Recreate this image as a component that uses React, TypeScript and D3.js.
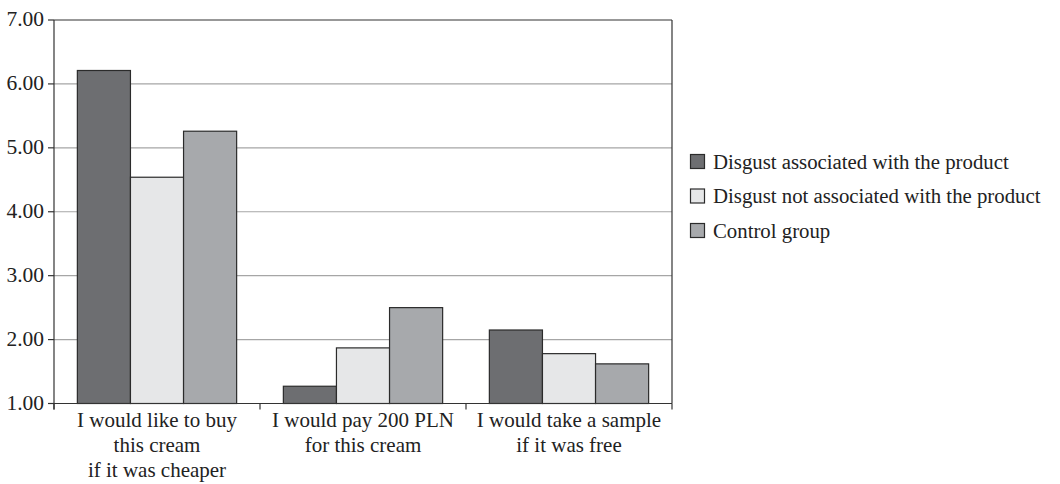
import React from "react";
import * as d3 from "d3";

const categories: string[][] = [
  ["I would like to buy", "this cream", "if it was cheaper"],
  ["I would pay 200 PLN", "for this cream"],
  ["I would take a sample", "if it was free"],
];
const seriesNames = [
  "Disgust associated with the product",
  "Disgust not associated with the product",
  "Control group",
];
const associated = [6.21, 1.27, 2.15];
const notAssociated = [4.54, 1.87, 1.78];
const control = [5.26, 2.5, 1.62];
const yTicks = [1, 2, 3, 4, 5, 6, 7];
const colors = ["#6d6e71", "#e6e7e8", "#a7a9ac"];

export default function App() {
  const W = 1060, H = 484;
  const left = 54, right = 672, top = 20, bottom = 403.5;
  const series = [associated, notAssociated, control];
  const x0 = d3.scaleBand<number>().domain([0, 1, 2]).range([left, right]).paddingInner(0).paddingOuter(0);
  const x1 = d3.scaleBand<number>().domain([0, 1, 2]).range([0, x0.bandwidth()]).paddingInner(0).paddingOuter(0.44);
  const y = d3.scaleLinear().domain([1, 7]).range([bottom, top]);
  const font = "Liberation Serif";
  return (
    <svg width={W} height={H} style={{ position: "absolute", left: 0, top: 0, fontFamily: font }}>
      <rect width={W} height={H} fill="#fff" />
      {yTicks.slice(1, -1).map((t) => (
        <line key={t} x1={left} x2={right} y1={y(t)} y2={y(t)} stroke="#a6a6a6" strokeWidth={1.2} />
      ))}
      {series.map((vals, si) =>
        vals.map((v, ci) => (
          <rect
            key={si + "-" + ci}
            x={x0(ci)! + x1(si)!}
            y={y(v)}
            width={x1.bandwidth()}
            height={y(1) - y(v)}
            fill={colors[si]}
            stroke="#2b2b2b"
            strokeWidth={1.2}
          />
        ))
      )}
      <line x1={left} x2={right} y1={top} y2={top} stroke="#333" strokeWidth={1.2} />
      <line x1={right} x2={right} y1={top} y2={bottom} stroke="#333" strokeWidth={1.2} />
      <line x1={left} x2={left} y1={top} y2={bottom + 6} stroke="#333" strokeWidth={1.2} />
      <line x1={left} x2={right} y1={bottom} y2={bottom} stroke="#333" strokeWidth={1.2} />
      {yTicks.map((t) => (
        <g key={t}>
          <line x1={left - 6} x2={left} y1={y(t)} y2={y(t)} stroke="#333" strokeWidth={1.2} />
          <text x={44} y={y(t) + 6} textAnchor="end" fontSize={21.5} fill="#222" fontFamily={font}>
            {t.toFixed(2)}
          </text>
        </g>
      ))}
      {[0, 1, 2, 3].map((i) => {
        const xx = i < 3 ? x0(i)! : right;
        return <line key={i} x1={xx} x2={xx} y1={bottom} y2={bottom + 6} stroke="#333" strokeWidth={1.2} />;
      })}
      {categories.map((lines, ci) => (
        <text key={ci} textAnchor="middle" fontSize={21} fill="#222" fontFamily={font}>
          {lines.map((l, li) => (
            <tspan key={li} x={x0(ci)! + x0.bandwidth() / 2} y={427 + li * 25}>
              {l}
            </tspan>
          ))}
        </text>
      ))}
      {seriesNames.map((n, i) => (
        <g key={n} transform={`translate(690, ${154 + i * 34.5})`}>
          <rect x={0.5} y={0.5} width={14} height={14} fill={colors[i]} stroke="#2b2b2b" strokeWidth={1.2} />
          <text x={23} y={14.5} fontSize={20.8} fill="#222" fontFamily={font}>
            {n}
          </text>
        </g>
      ))}
    </svg>
  );
}
